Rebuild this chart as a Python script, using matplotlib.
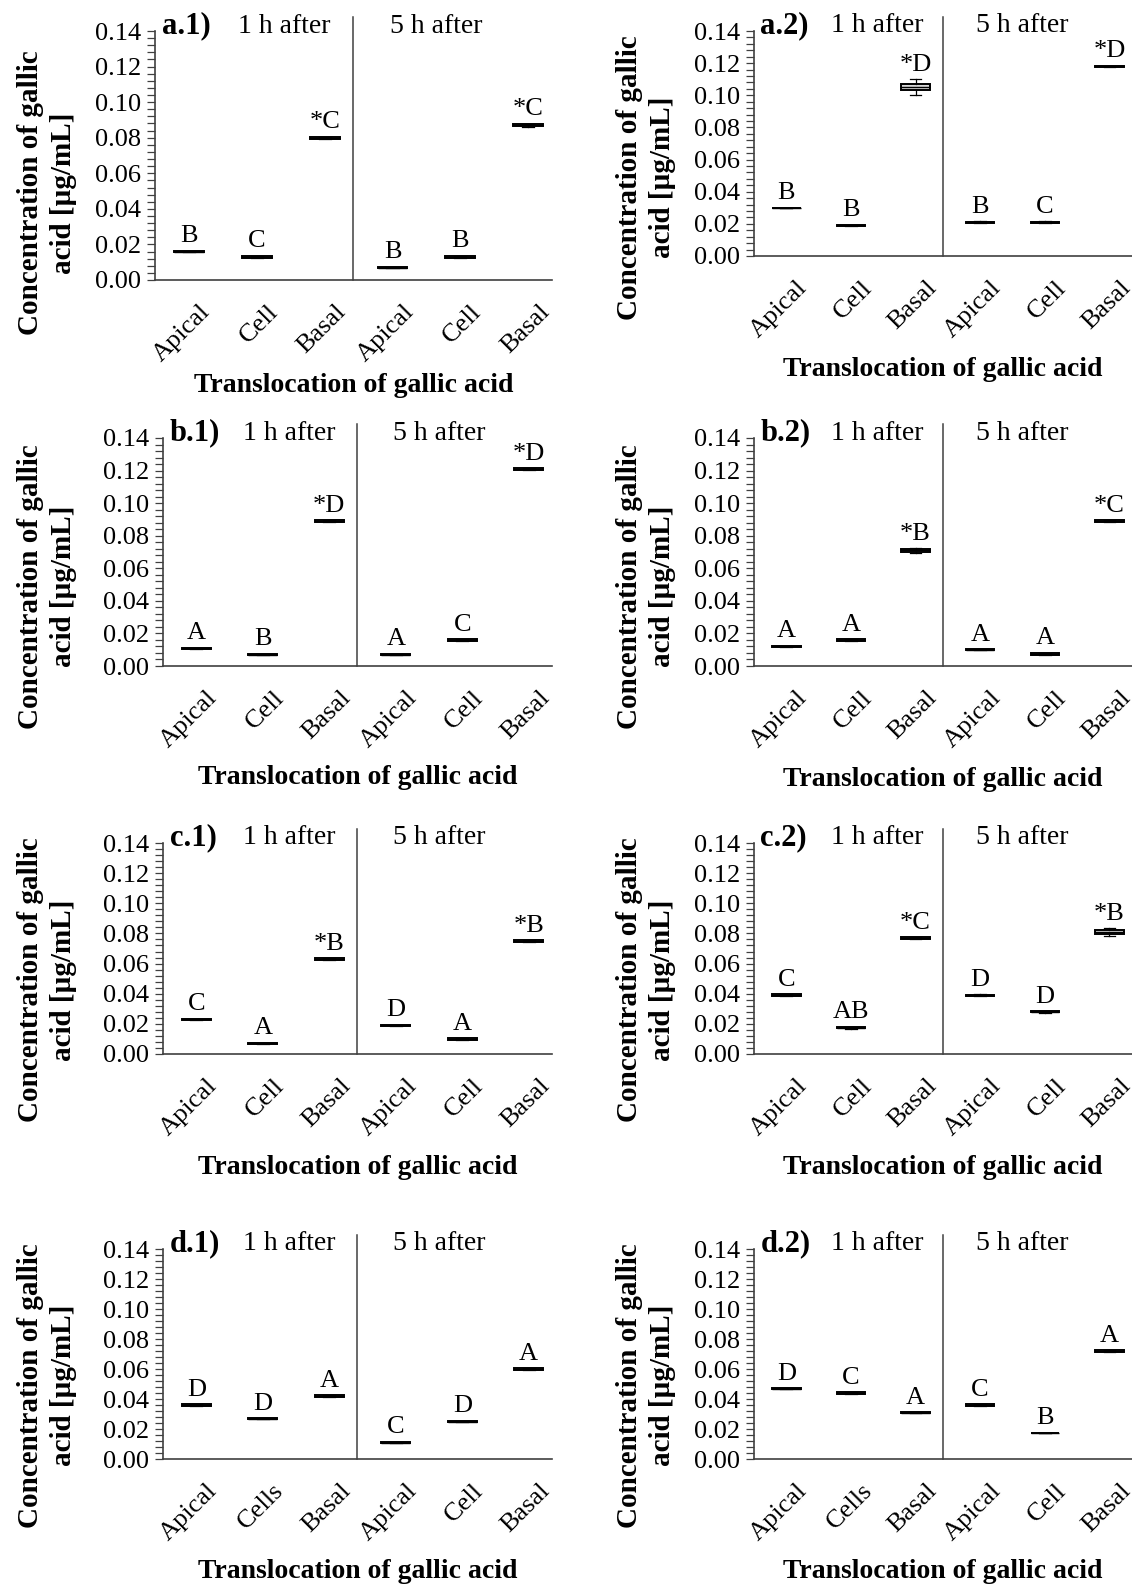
import matplotlib.pyplot as plt
import matplotlib.transforms as mtransforms

plt.rcParams['font.family'] = ['Liberation Serif', 'DejaVu Serif']

# category names
cats = ['Apical', 'Cell', 'Basal', 'Apical', 'Cell', 'Basal']
cats_d = ['Apical', 'Cells', 'Basal', 'Apical', 'Cell', 'Basal']

# medians (ug/mL), half box heights and half whisker spans
a1_med = [0.016, 0.013, 0.080, 0.007, 0.013, 0.087]
a1_box = [0.0005, 0.0005, 0.0005, 0.0005, 0.0005, 0.0005]
a1_whi = [0.0, 0.0, 0.0, 0.0, 0.0, 0.0007]
a1_let = ['B', 'C', '*C', 'B', 'B', '*C']

a2_med = [0.030, 0.019, 0.105, 0.021, 0.021, 0.118]
a2_box = [0.0001, 0.0003, 0.002, 0.0003, 0.0003, 0.0004]
a2_whi = [0.0, 0.0005, 0.005, 0.0005, 0.0005, 0.0005]
a2_let = ['B', 'B', '*D', 'B', 'C', '*D']

b1_med = [0.011, 0.007, 0.089, 0.007, 0.016, 0.121]
b1_box = [0.0003, 0.0005, 0.0005, 0.0005, 0.0005, 0.0005]
b1_whi = [0.0, 0.0, 0.0, 0.0, 0.0, 0.0]
b1_let = ['A', 'B', '*D', 'A', 'C', '*D']

b2_med = [0.012, 0.016, 0.071, 0.010, 0.0075, 0.089]
b2_box = [0.0005, 0.0005, 0.0009, 0.0003, 0.0005, 0.0005]
b2_whi = [0.0, 0.0, 0.0014, 0.0, 0.0, 0.0]
b2_let = ['A', 'A', '*B', 'A', 'A', '*C']

c1_med = [0.023, 0.007, 0.063, 0.019, 0.010, 0.075]
c1_box = [0.0004, 0.0005, 0.0005, 0.0005, 0.0005, 0.0006]
c1_whi = [0.0, 0.0, 0.0, 0.0, 0.0, 0.0]
c1_let = ['C', 'A', '*B', 'D', 'A', '*B']

c2_med = [0.039, 0.0175, 0.077, 0.039, 0.028, 0.081]
c2_box = [0.0005, 0.0003, 0.0005, 0.0003, 0.0003, 0.0011]
c2_whi = [0.0, 0.0006, 0.0007, 0.0006, 0.0005, 0.0024]
c2_let = ['C', 'AB', '*C', 'D', 'D', '*B']

d1_med = [0.036, 0.027, 0.042, 0.011, 0.025, 0.060]
d1_box = [0.0004, 0.0004, 0.0005, 0.0005, 0.0005, 0.0006]
d1_whi = [0.0, 0.0, 0.0007, 0.0, 0.0, 0.0007]
d1_let = ['D', 'D', 'A', 'C', 'D', 'A']

d2_med = [0.047, 0.044, 0.031, 0.036, 0.0175, 0.072]
d2_box = [0.0002, 0.0005, 0.0004, 0.0005, 0.0001, 0.0005]
d2_whi = [0.0004, 0.0007, 0.0, 0.0007, 0.0, 0.0007]
d2_let = ['D', 'C', 'A', 'C', 'B', 'A']

W, H = 1132, 1589
fig = plt.figure(figsize=(W / 100, H / 100), dpi=100)

# pixel boxes of the plot areas (left, top, right, bottom) and x label offset
panels = [
    ('a.1)', a1_med, a1_box, a1_whi, a1_let, cats, (155, 31, 552, 280), 106),
    ('a.2)', a2_med, a2_box, a2_whi, a2_let, cats, (754, 31, 1132, 256), 113),
    ('b.1)', b1_med, b1_box, b1_whi, b1_let, cats, (163, 438, 552, 666), 111),
    ('b.2)', b2_med, b2_box, b2_whi, b2_let, cats, (754, 438, 1132, 666), 113),
    ('c.1)', c1_med, c1_box, c1_whi, c1_let, cats, (163, 843, 552, 1054), 113),
    ('c.2)', c2_med, c2_box, c2_whi, c2_let, cats, (754, 843, 1132, 1054), 113),
    ('d.1)', d1_med, d1_box, d1_whi, d1_let, cats_d, (163, 1249, 552, 1459), 113),
    ('d.2)', d2_med, d2_box, d2_whi, d2_let, cats_d, (754, 1249, 1132, 1459), 113),
]

axcol = '#404040'
fs = 19

for name, med, box, whi, let, labels, (l, t, r, b), xoff in panels:
    ax = fig.add_axes([l / W, 1 - b / H, (r - l) / W, (b - t) / H])
    hpx = b - t
    wpx = r - l

    stats = []
    for m, bx, wh in zip(med, box, whi):
        wh = max(wh, bx)
        stats.append(dict(med=m, q1=m - bx, q3=m + bx, whislo=m - wh, whishi=m + wh))
    ax.bxp(stats, positions=range(1, 7), widths=0.44, capwidths=0.18,
           showfliers=False, patch_artist=True,
           boxprops=dict(facecolor='#d9d9d9', edgecolor='black', linewidth=1.4),
           medianprops=dict(color='black', linewidth=1.0),
           whiskerprops=dict(color='black', linewidth=0.9),
           capprops=dict(color='black', linewidth=0.9))

    for i, (m, bx, wh, s) in enumerate(zip(med, box, whi, let)):
        top = m + max(bx, wh)
        ax.text(i + 1, top + 0.0022, s, ha='center', va='bottom', fontsize=fs)

    ax.set_xlim(0.5, 6.35)
    ax.set_ylim(0, 0.14)
    ax.set_yticks([0, 0.02, 0.04, 0.06, 0.08, 0.10, 0.12, 0.14])
    ax.set_yticklabels(['%.2f' % v for v in ax.get_yticks()], fontsize=19)
    ax.set_yticks([k * 0.004 for k in range(36)], minor=True)
    ax.tick_params(axis='y', which='both', direction='out', length=6,
                   width=0.9, color=axcol, pad=4)
    ax.set_xticks(range(1, 7))
    ax.set_xticklabels(labels, rotation=45, ha='right', rotation_mode='anchor',
                       fontsize=fs)
    ax.tick_params(axis='x', length=0, pad=15)
    shift = mtransforms.ScaledTranslation(10 / 100, 0, fig.dpi_scale_trans)
    for lab in ax.get_xticklabels():
        lab.set_transform(lab.get_transform() + shift)

    for sp in ['top', 'right']:
        ax.spines[sp].set_visible(False)
    for sp in ['left', 'bottom']:
        ax.spines[sp].set_color(axcol)
        ax.spines[sp].set_linewidth(1.2)

    # divider between 1 h and 5 h
    ax.plot([3.42, 3.42], [0, 1 + 14 / hpx], color=axcol, lw=1.1,
            transform=ax.get_xaxis_transform(), clip_on=False)

    ytxt = 1 + 5 / hpx
    tr = ax.get_xaxis_transform()
    ax.text(0.6, ytxt, name, ha='left', va='center', fontsize=22,
            fontweight='bold', transform=tr)
    ax.text(2.4, ytxt, '1 h after', ha='center', va='center', fontsize=20, transform=tr)
    ax.text(4.65, ytxt, '5 h after', ha='center', va='center', fontsize=20, transform=tr)

    yl = ax.set_ylabel('Concentration of gallic\nacid [\u00b5g/mL]', fontsize=21,
                       fontweight='bold', linespacing=1.25)
    yl.set_va('center')
    ax.yaxis.set_label_coords(-(l - 47 if l < 500 else l - 646) / wpx, 0.35)
    xl = ax.set_xlabel('Translocation of gallic acid', fontsize=20, fontweight='bold')
    xl.set_va('center')
    ax.xaxis.set_label_coords(0.5, -xoff / hpx)

fig.savefig('out.png', dpi=100)
